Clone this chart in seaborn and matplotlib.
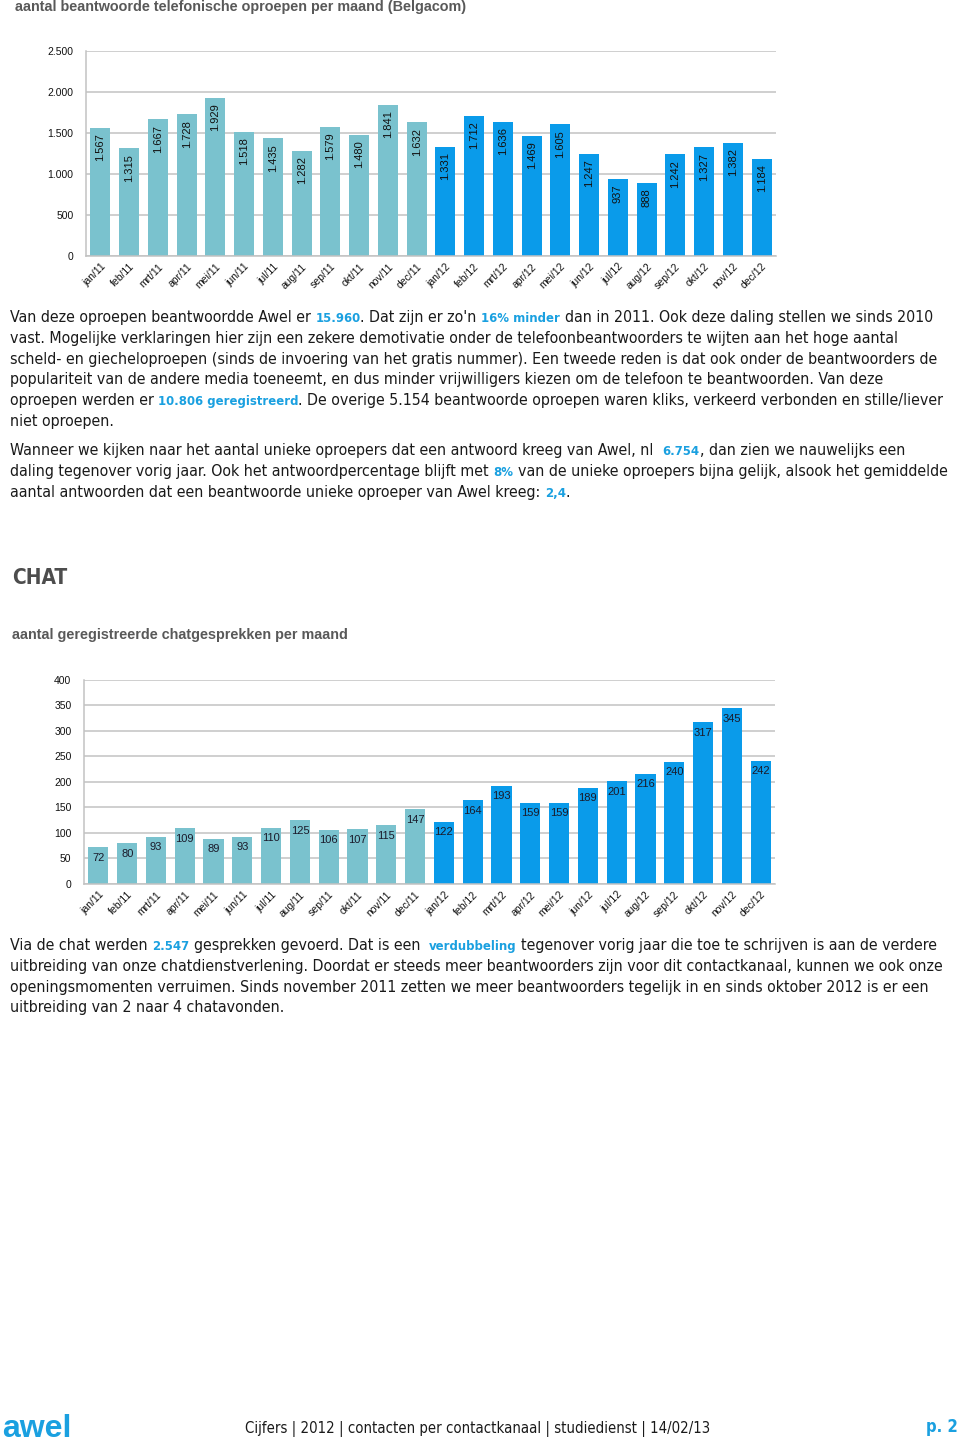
import matplotlib
matplotlib.use("Agg")
import matplotlib.pyplot as plt
import seaborn as sns
import pandas as pd
from matplotlib import font_manager as fm

W, H = 960, 1443

# ---------------- data ----------------
months = ['jan', 'feb', 'mrt', 'apr', 'mei', 'jun', 'jul', 'aug', 'sep', 'okt', 'nov', 'dec']
years = ['2011', '2012']
year_suffix = ['11', '12']

phone_2011 = [1567, 1315, 1667, 1728, 1929, 1518, 1435, 1282, 1579, 1480, 1841, 1632]
phone_2012 = [1331, 1712, 1636, 1469, 1605, 1247, 937, 888, 1242, 1327, 1382, 1184]
phone_yticks = [0, 500, 1000, 1500, 2000, 2500]
phone_yticklabels = ['0', '500', '1.000', '1.500', '2.000', '2.500']

chat_2011 = [72, 80, 93, 109, 89, 93, 110, 125, 106, 107, 115, 147]
chat_2012 = [122, 164, 193, 159, 159, 189, 201, 216, 240, 317, 345, 242]
chat_yticks = [0, 50, 100, 150, 200, 250, 300, 350, 400]
chat_yticklabels = ['0', '50', '100', '150', '200', '250', '300', '350', '400']

title_phone = 'aantal beantwoorde telefonische oproepen per maand (Belgacom)'
title_chat = 'aantal geregistreerde chatgesprekken per maand'
heading_chat = 'CHAT'
footer_text = 'Cijfers | 2012 | contacten per contactkanaal | studiedienst | 14/02/13'
footer_page = 'p. 2'
logo_text = 'awel'

para_phone = [
    [("Van deze oproepen beantwoordde Awel er ", 'n'), ("15.960", 'b'), (". Dat zijn er zo'n ", 'n'),
     ("16% minder", 'b'), (" dan in 2011. Ook deze daling stellen we sinds 2010", 'n')],
    [("vast. Mogelijke verklaringen hier zijn een zekere demotivatie onder de telefoonbeantwoorders te wijten aan het hoge aantal", 'n')],
    [("scheld- en giecheloproepen (sinds de invoering van het gratis nummer). Een tweede reden is dat ook onder de beantwoorders de", 'n')],
    [("populariteit van de andere media toeneemt, en dus minder vrijwilligers kiezen om de telefoon te beantwoorden. Van deze", 'n')],
    [("oproepen werden er ", 'n'), ("10.806 geregistreerd", 'b'),
     (". De overige 5.154 beantwoorde oproepen waren kliks, verkeerd verbonden en stille/liever", 'n')],
    [("niet oproepen.", 'n')],
]
para_unique = [
    [("Wanneer we kijken naar het aantal unieke oproepers dat een antwoord kreeg van Awel, nl  ", 'n'), ("6.754", 'b'),
     (", dan zien we nauwelijks een", 'n')],
    [("daling tegenover vorig jaar. Ook het antwoordpercentage blijft met ", 'n'), ("8%", 'b'),
     (" van de unieke oproepers bijna gelijk, alsook het gemiddelde", 'n')],
    [("aantal antwoorden dat een beantwoorde unieke oproeper van Awel kreeg: ", 'n'), ("2,4", 'b'), (".", 'n')],
]
para_chat = [
    [("Via de chat werden ", 'n'), ("2.547", 'b'), (" gesprekken gevoerd. Dat is een  ", 'n'), ("verdubbeling", 'b'),
     (" tegenover vorig jaar die toe te schrijven is aan de verdere", 'n')],
    [("uitbreiding van onze chatdienstverlening. Doordat er steeds meer beantwoorders zijn voor dit contactkanaal, kunnen we ook onze", 'n')],
    [("openingsmomenten verruimen. Sinds november 2011 zetten we meer beantwoorders tegelijk in en sinds oktober 2012 is er een", 'n')],
    [("uitbreiding van 2 naar 4 chatavonden.", 'n')],
]

# ---------------- style ----------------
color_2011 = '#7AC2CE'
color_2012 = '#0A9BEA'
text_blue = '#1AA0E0'
grid_gray = '#C2C2C2'
title_gray = '#595959'
text_black = '#1A1A1A'

sns.set_style('white')
plt.rcParams['font.family'] = ['Liberation Sans', 'DejaVu Sans']


def pick_narrow(weight):
    for fam, stretch, key in [('Liberation Sans Narrow', 'normal', 'narrow'),
                              ('DejaVu Sans', 'condensed', 'condensed')]:
        try:
            fp = fm.FontProperties(family=fam, stretch=stretch, weight=weight)
            path = fm.findfont(fp, fallback_to_default=False)
            if key in path.lower():
                return fm.FontProperties(fname=path), True
        except Exception:
            pass
    return fm.FontProperties(family='Liberation Sans', weight=weight), False


narrow_reg, has_narrow = pick_narrow('normal')
narrow_bold, _ = pick_narrow('bold')

fig = plt.figure(figsize=(W / 100, H / 100), dpi=100)
fig.patch.set_facecolor('white')


def ax_rect(l, t, r, b):
    return [l / W, 1 - b / H, (r - l) / W, (b - t) / H]


def thousands(v):
    return f"{v:,}".replace(',', '.')


def make_df(v2011, v2012, col):
    cats = [f"{m}/{s}" for s in year_suffix for m in months]
    return pd.DataFrame({'maand': cats, col: v2011 + v2012,
                         'jaar': [years[0]] * 12 + [years[1]] * 12})


def style_axes(ax, ymax, yticks, yticklabels):
    ax.set_xlim(-0.5, 23.5)
    ax.set_ylim(0, ymax)
    ax.set_yticks(yticks)
    ax.set_yticklabels(yticklabels)
    ax.yaxis.grid(True, color=grid_gray, lw=1.1)
    ax.xaxis.grid(False)
    ax.set_axisbelow(True)
    for s in ['top', 'right']:
        ax.spines[s].set_visible(False)
    for s in ['left', 'bottom']:
        ax.spines[s].set_color(grid_gray)
        ax.spines[s].set_linewidth(1.1)
    ax.tick_params(axis='y', length=0, pad=9, labelsize=7.5, labelcolor='#111111')
    ax.tick_params(axis='x', length=0, pad=4, labelsize=7.5, labelcolor='#111111')
    for lab in ax.get_xticklabels():
        lab.set_rotation(45)
        lab.set_ha('right')
        lab.set_rotation_mode('anchor')
    ax.set_xlabel('')
    ax.set_ylabel('')
    ax.set_facecolor('white')


palette = {years[0]: color_2011, years[1]: color_2012}

# ---------------- phone chart ----------------
ax1 = fig.add_axes(ax_rect(86, 51, 776, 256))
phone_df = make_df(phone_2011, phone_2012, 'oproepen')
sns.barplot(data=phone_df, x='maand', y='oproepen', hue='jaar', palette=palette, dodge=False,
            width=0.7, saturation=1, legend=False, errorbar=None, linewidth=0, ax=ax1)
style_axes(ax1, 2500, phone_yticks, phone_yticklabels)
for i, v in enumerate(phone_df['oproepen']):
    ax1.annotate(thousands(v), xy=(i, v), xytext=(0, -4), textcoords='offset points',
                 rotation=90, ha='center', va='top', fontsize=8, color='#111111')

# ---------------- chat chart ----------------
ax2 = fig.add_axes(ax_rect(84, 680, 775, 884))
chat_df = make_df(chat_2011, chat_2012, 'gesprekken')
sns.barplot(data=chat_df, x='maand', y='gesprekken', hue='jaar', palette=palette, dodge=False,
            width=0.7, saturation=1, legend=False, errorbar=None, linewidth=0, ax=ax2)
style_axes(ax2, 400, chat_yticks, chat_yticklabels)
for i, v in enumerate(chat_df['gesprekken']):
    ax2.annotate(str(v), xy=(i, v), xytext=(0, -4), textcoords='offset points',
                 ha='center', va='top', fontsize=8, color='#1A1A2A')

# ---------------- titles ----------------
fig.text(15 / W, 1 - 7 / H, title_phone, fontsize=10.4, fontweight='bold', color=title_gray,
         va='center', ha='left')
fig.text(12 / W, 1 - 635 / H, title_chat, fontsize=10.4, fontweight='bold', color=title_gray,
         va='center', ha='left')

# ---------------- rich paragraphs ----------------
renderer = fig.canvas.get_renderer()


def adv(s, fp):
    if not s:
        return 0.0
    w1 = renderer.get_text_width_height_descent('x' + s + 'x', fp, False)[0]
    w0 = renderer.get_text_width_height_descent('xx', fp, False)[0]
    return w1 - w0


REG_SIZE, BOLD_SIZE = 13.0, 10.6
base_reg = narrow_reg.copy()
base_bold = narrow_bold.copy()
base_reg.set_size(REG_SIZE)
base_bold.set_size(BOLD_SIZE)


def line_width(segs, fr, fb):
    return sum(adv(s, fr if k == 'n' else fb) for s, k in segs)


target = 926.0
scale = target / line_width(para_phone[0], base_reg, base_bold)
font_reg = base_reg.copy()
font_bold = base_bold.copy()
font_reg.set_size(REG_SIZE * scale)
font_bold.set_size(BOLD_SIZE * scale)


def draw_line(x0, y_center, segs):
    x = x0
    base_y = y_center + 5
    for s, k in segs:
        fp = font_reg if k == 'n' else font_bold
        col = text_black if k == 'n' else text_blue
        stripped = s.lstrip(' ')
        lead = s[:len(s) - len(stripped)]
        core = stripped.rstrip(' ')
        xs = x + adv(lead, fp)
        if core:
            fig.text(xs / W, 1 - base_y / H, core, fontproperties=fp, color=col,
                     va='baseline', ha='left')
        x += adv(s, fp)


for j, segs in enumerate(para_phone):
    draw_line(10, 317 + j * 20.8, segs)
for j, segs in enumerate(para_unique):
    draw_line(10, 450 + j * 20.8, segs)
for j, segs in enumerate(para_chat):
    draw_line(10, 945 + j * 20.8, segs)

# ---------------- heading & footer ----------------
head_fp = narrow_bold.copy()
head_fp.set_size(15)
fig.text(12 / W, 1 - 578 / H, heading_chat, fontproperties=head_fp, color='#4D4D4D',
         va='center', ha='left')

logo_fp = fm.FontProperties(family='Liberation Sans', weight='bold', size=23)
fig.text(2 / W, 1 - 1429 / H, logo_text, fontproperties=logo_fp, color=text_blue,
         va='center', ha='left')

foot_fp = font_reg.copy()
foot_fp.set_size(font_reg.get_size() * 0.94)
fig.text(478 / W, 1 - 1429 / H, footer_text, fontproperties=foot_fp, color=text_black,
         va='center', ha='center')

page_fp = narrow_bold.copy()
page_fp.set_size(12)
fig.text(958 / W, 1 - 1427 / H, footer_page, fontproperties=page_fp, color=text_blue,
         va='center', ha='right')

fig.savefig('out.png', dpi=100, facecolor='white')
